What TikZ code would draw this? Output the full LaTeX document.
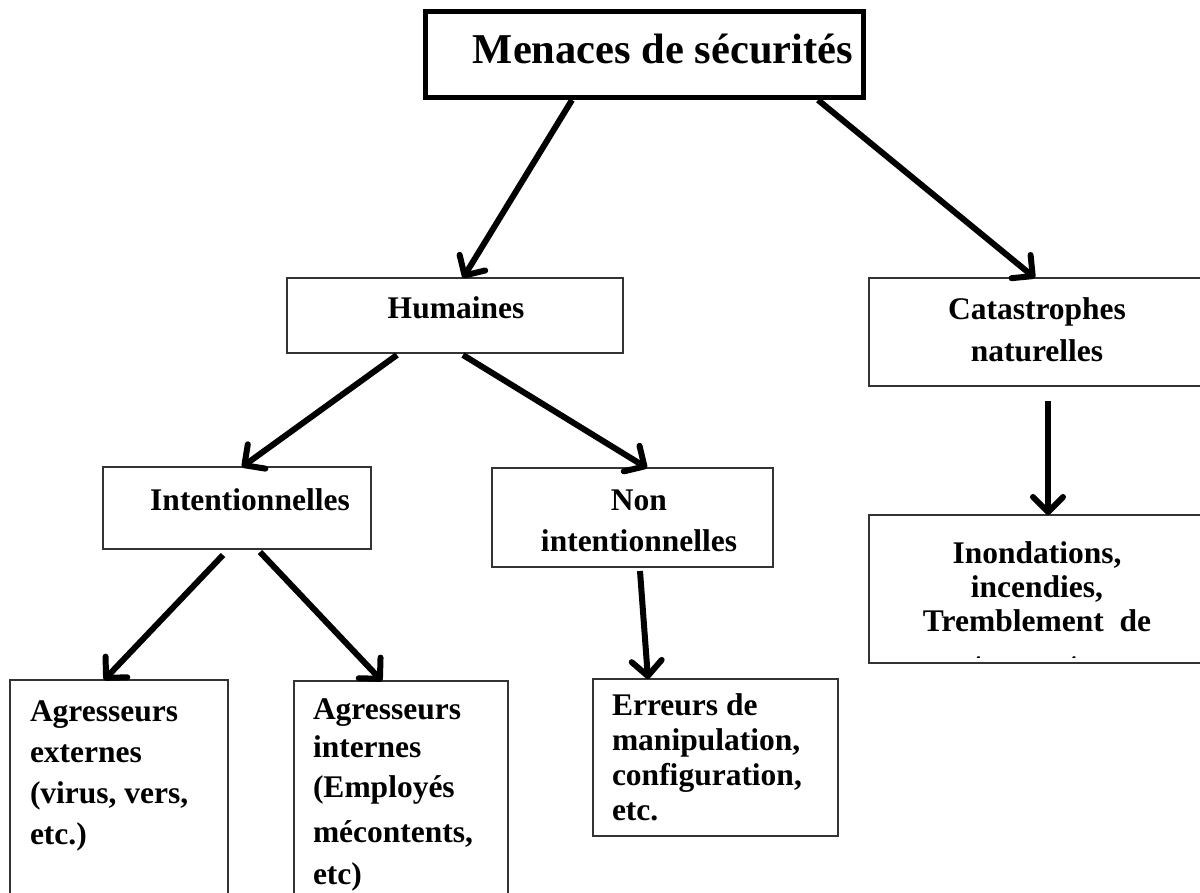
\documentclass[tikz,border=0pt]{standalone}
\usepackage{fontspec}
\setmainfont{Liberation Serif}
\usetikzlibrary{arrows.meta}
\tikzset{
  boxnode/.style={draw=black!80, line width=1.6pt, inner sep=0pt, outer sep=0pt, anchor=north west, fill=none},
  titlebox/.style={boxnode, draw=black, line width=5pt},
  txt/.style={inner sep=0pt, outer sep=0pt, font=\bfseries\fontsize{31.5}{35}\selectfont},
  arr/.style={line width=6pt, -{Straight Barb[length=15pt,width=30pt,round,line width=6pt]}},
}
\begin{document}
\begin{tikzpicture}[x=1pt,y=-1pt]
\useasboundingbox (0,0) rectangle (1200,892);
% boxes
\node[titlebox, minimum width=438pt, minimum height=86pt] (title) at (425,11) {};
\node[boxnode, minimum width=336pt, minimum height=75pt] (hum) at (287,278) {};
\node[boxnode, minimum width=341pt, minimum height=108pt] (cat) at (869,278) {};
\node[boxnode, minimum width=268pt, minimum height=82pt] (int) at (103,467) {};
\node[boxnode, minimum width=281pt, minimum height=99pt] (nonint) at (492,468) {};
\node[boxnode, minimum width=341pt, minimum height=148pt] (inon) at (869,515) {};
\node[boxnode, minimum width=218pt, minimum height=230pt] (agrext) at (10,680) {};
\node[boxnode, minimum width=214pt, minimum height=230pt] (agrint) at (294,681) {};
\node[boxnode, minimum width=245pt, minimum height=157pt] (err) at (593,679) {};
% texts (anchor base = baseline of the last line)
\node[txt, font=\bfseries\fontsize{42.5}{48}\selectfont, anchor=base] (titlet) at (663,63) {Menaces de sécurités};
\node[txt, anchor=base] (humt) at (456,318) {Humaines};
\node[txt, anchor=base, align=center, font=\bfseries\fontsize{31.5}{42}\selectfont] (catt) at (1037,361) {Catastrophes\\naturelles};
\node[txt, anchor=base] (intt) at (250,510) {Intentionnelles};
\node[txt, anchor=base, align=center, font=\bfseries\fontsize{31.5}{41}\selectfont] (nonintt) at (639,551) {Non\\intentionnelles};
\begin{scope}
\clip (869,515) rectangle (1200,657);
\node[txt, anchor=base, align=center, font=\bfseries\fontsize{31.5}{34}\selectfont] (inont) at (1037,674) {Inondations,\\incendies,\\Tremblement\ \ de\\[9pt]terre, etc.};
\end{scope}
\node[txt, anchor=base west, align=left, font=\bfseries\fontsize{31.5}{41}\selectfont] (agrextt) at (30,844) {Agresseurs\\externes\\(virus, vers,\\etc.)};
\node[txt, anchor=base west, align=left, font=\bfseries\fontsize{31.5}{38}\selectfont] (agrintt) at (313,884) {Agresseurs\\internes\\[2pt](Employés\\[7pt]mécontents,\\[4pt]etc)};
\node[txt, anchor=base west, align=left, font=\bfseries\fontsize{31.5}{35}\selectfont] (errt) at (612,820) {Erreurs de\\manipulation,\\configuration,\\etc.};
% arrows
\draw[arr] ([xshift=-72pt,yshift=-3pt]title.south) -- ([xshift=8pt]hum.north);
\draw[arr] ([xshift=174pt,yshift=-3pt]title.south) -- ([xshift=-4.5pt]cat.north);
\draw[arr] ([xshift=-58pt,yshift=-2pt]hum.south) -- ([xshift=5pt]int.north);
\draw[arr] ([xshift=8pt,yshift=-2pt]hum.south) -- ([xshift=14.5pt]nonint.north);
\draw[arr] ([xshift=8.5pt,yshift=-15pt]cat.south) -- ([xshift=8.5pt]inon.north);
\draw[arr] ([xshift=-14pt,yshift=-6pt]int.south) -- ([xshift=-15pt]agrext.north);
\draw[arr] ([xshift=23pt,yshift=-3pt]int.south) -- ([xshift=-19pt]agrint.north);
\draw[arr] ([xshift=7.5pt,yshift=-4pt]nonint.south) -- ([xshift=-67.5pt]err.north);
\end{tikzpicture}
\end{document}
